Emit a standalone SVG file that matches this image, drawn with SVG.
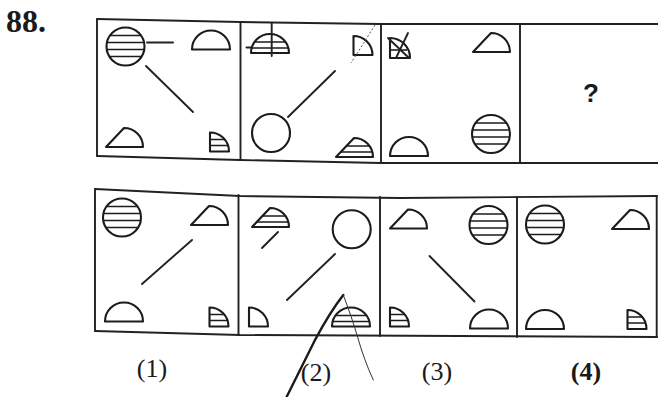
<svg xmlns="http://www.w3.org/2000/svg" width="658" height="397" viewBox="0 0 658 397">
<style>
.o{fill:none;stroke:#1c1c1c;stroke-width:2.1;stroke-linejoin:round;stroke-linecap:round}
.h{fill:none;stroke:#1c1c1c;stroke-width:1.6}
.f{fill:none;stroke:#222;stroke-width:1.9;stroke-linecap:round}
.t{font-family:"Liberation Serif",serif;fill:#1a1a1a}
</style>
<defs>
<path id="semi" class="o" d="M0,0 A19,19 0 0 1 38,0 Z"/>
<path id="hump" class="o" d="M0,0 L18,-19 A19,19 0 0 1 37,0 Z"/>
<path id="quarter" class="o" d="M0,0 V-19 A19,19 0 0 1 19,0 Z"/>
<g id="hcircle"><circle class="o" r="19"/><path class="h" d="M-15.5,-11H15.5M-18.6,-4H18.6M-18.8,3H18.8M-16.2,10H16.2"/></g>
<g id="hquarter"><use href="#quarter"/><path class="h" d="M0,-6H18M0,-12H14.7"/></g>
<g id="hsemi"><use href="#semi"/><path class="h" d="M0.7,-5H37.3M3.5,-11H34.5"/></g>
<g id="hhump"><use href="#hump"/><path class="h" d="M4.7,-5H36.3M10.4,-11H33.5"/></g>
</defs>
<rect width="658" height="397" fill="#fff"/>
<text class="t" x="6" y="32" font-size="32" font-weight="bold">88.</text>

<g id="top-frame" class="f">
<path d="M97,19 L240,22 L380,24 L658,24"/>
<path d="M97,156 L240,160 L380,163 L658,163"/>
<path d="M97,19 V156 M240.5,22 V160 M381,24 V163 M520,24 V163"/>
</g>

<g id="q1">
<use href="#hcircle" transform="translate(125.5,46.5)"/>
<path class="f" d="M147,42.5 H173"/>
<use href="#semi" transform="translate(192,49.5)"/>
<path class="f" d="M146,66 L193,112"/>
<use href="#hump" transform="translate(106,147)"/>
<use href="#hquarter" transform="translate(210,151.5)"/>
</g>
<g id="q2">
<use href="#hsemi" transform="translate(251,53)"/>
<path class="f" d="M271.7,23 V56 M246.5,47.5 H252"/>
<use href="#quarter" transform="translate(353.5,55)"/>
<path d="M375,25 L351,63" fill="none" stroke="#555" stroke-width="1" stroke-dasharray="2 2"/>
<path class="f" d="M335,71 L288,117"/>
<circle class="o" cx="271" cy="133" r="19"/>
<use href="#hhump" transform="translate(336,157)"/>
</g>
<g id="q3">
<path class="o" d="M390,58 V38 A20,20 0 0 1 410,58 Z"/>
<path class="h" d="M390,50 H407"/>
<path class="f" d="M388,38 L409,58 M396,58 L408,33"/>
<use href="#hump" transform="translate(473,52)"/>
<use href="#semi" transform="translate(390,156)"/>
<use href="#hcircle" transform="translate(491,134)"/>
</g>
<g id="q4">
<text x="591" y="102" font-family="Liberation Sans,Arial,sans-serif" font-size="26" font-weight="bold" text-anchor="middle" fill="#1a1a1a">?</text>
</g>

<g id="bottom-frame" class="f">
<path d="M95,189 L240,196 L400,198 L657,196"/>
<path d="M95,331 L240,335 L657,337"/>
<path d="M95,189 V331 M238.5,195 V335 M380,197 V336 M517,197 V337 M656.7,196 V337"/>
</g>

<g id="opt1">
<use href="#hcircle" transform="translate(122,217.5)"/>
<use href="#hump" transform="translate(191,225)"/>
<path class="f" d="M192,240 L142,284"/>
<use href="#semi" transform="translate(105,321.5)"/>
<use href="#hquarter" transform="translate(209.5,326.5)"/>
</g>
<g id="opt2">
<use href="#hhump" transform="translate(252,227)"/>
<path class="f" d="M278,232 L262,248"/>
<circle class="o" cx="351.7" cy="229.3" r="19"/>
<path class="f" d="M335,254 L287,300"/>
<use href="#quarter" transform="translate(249,326.5)"/>
<use href="#hsemi" transform="translate(332,326.5)"/>
</g>
<g id="opt3">
<use href="#hump" transform="translate(390,228.5)"/>
<use href="#hcircle" transform="translate(488.5,225)"/>
<path class="f" d="M429.5,256 L474.5,301.5"/>
<use href="#hquarter" transform="translate(390,326.5)"/>
<use href="#semi" transform="translate(470,328.5)"/>
</g>
<g id="opt4">
<use href="#hcircle" transform="translate(545,224.5)"/>
<use href="#hump" transform="translate(612,229)"/>
<use href="#semi" transform="translate(526,329)"/>
<use href="#hquarter" transform="translate(627.5,329)"/>
</g>

<g id="scribble" fill="none" stroke-linecap="round">
<path d="M286.7,396.7 L315,340 Q330,312 343.3,295" stroke="#1a1a1a" stroke-width="2.4"/>
<path d="M343.3,295 Q352,318 357,335 Q364,360 373.3,380" stroke="#333" stroke-width="1"/>
</g>

<g id="labels" class="t" font-size="26" text-anchor="middle">
<text x="152" y="377">(1)</text>
<text x="316" y="381">(2)</text>
<text x="437" y="380">(3)</text>
<text x="586" y="380" font-weight="bold">(4)</text>
</g>
</svg>
